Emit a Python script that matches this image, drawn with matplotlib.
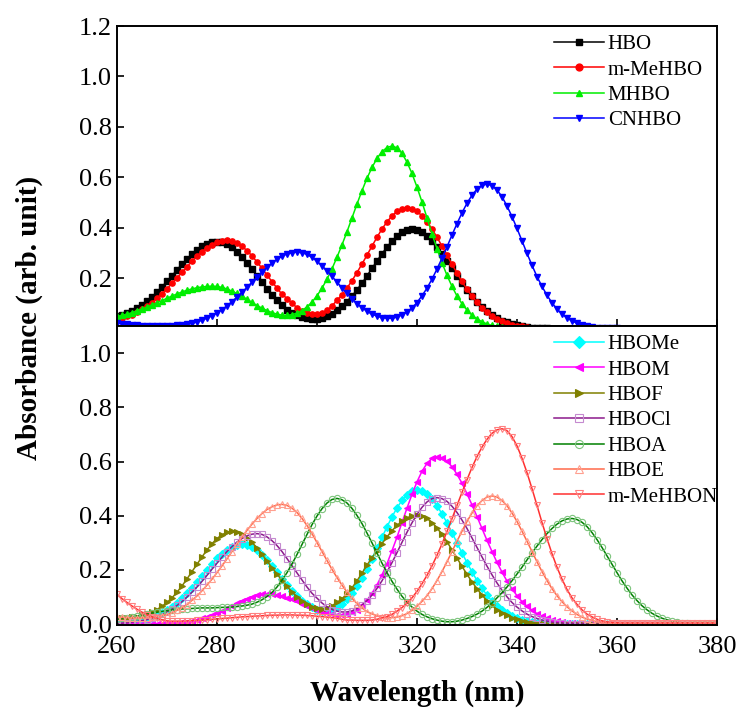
import numpy as np
import matplotlib.pyplot as plt
from matplotlib.ticker import FormatStrFormatter

plt.rcParams['font.family'] = ['Liberation Serif', 'DejaVu Serif']

# Wavelength grid (nm)
wavelength = np.arange(260, 381)

# --- Top panel series ---
hbo = [
    0.049, 0.054, 0.061, 0.069, 0.080, 0.093, 0.108, 0.125, 0.145, 0.166,
    0.187, 0.209, 0.233, 0.255, 0.276, 0.296, 0.313, 0.326, 0.337, 0.343,
    0.345, 0.342, 0.334, 0.322, 0.304, 0.284, 0.260, 0.235, 0.209, 0.183,
    0.158, 0.134, 0.112, 0.092, 0.075, 0.063, 0.053, 0.045, 0.041, 0.038,
    0.039, 0.042, 0.049, 0.059, 0.072, 0.088, 0.107, 0.129, 0.154, 0.180,
    0.209, 0.239, 0.268, 0.297, 0.323, 0.347, 0.366, 0.381, 0.390, 0.393,
    0.390, 0.381, 0.366, 0.347, 0.323, 0.297, 0.268, 0.239, 0.209, 0.180,
    0.153, 0.128, 0.105, 0.085, 0.068, 0.053, 0.041, 0.031, 0.024, 0.017,
    0.013, 0.009, 0.006, 0.004, 0.003, 0.002, 0.001, 0, 0, 0,
    0, 0, 0, 0, 0, 0, 0, 0, 0, 0,
    0, 0, 0, 0, 0, 0, 0, 0, 0, 0,
    0, 0, 0, 0, 0, 0, 0, 0, 0, 0,
    0,
]
m_mehbo = [
    0.039, 0.042, 0.048, 0.055, 0.064, 0.076, 0.089, 0.103, 0.120, 0.138,
    0.158, 0.179, 0.201, 0.223, 0.245, 0.267, 0.287, 0.305, 0.320, 0.333,
    0.342, 0.348, 0.350, 0.347, 0.339, 0.326, 0.309, 0.288, 0.264, 0.239,
    0.212, 0.186, 0.160, 0.136, 0.119, 0.101, 0.082, 0.068, 0.060, 0.057,
    0.057, 0.062, 0.072, 0.090, 0.112, 0.134, 0.160, 0.190, 0.222, 0.256,
    0.291, 0.327, 0.362, 0.395, 0.423, 0.447, 0.465, 0.476, 0.480, 0.476,
    0.465, 0.447, 0.423, 0.395, 0.362, 0.327, 0.291, 0.255, 0.220, 0.187,
    0.156, 0.128, 0.104, 0.083, 0.065, 0.050, 0.038, 0.029, 0.021, 0.015,
    0.011, 0.008, 0.005, 0.004, 0.002, 0.002, 0.001, 0.001, 0, 0,
    0, 0, 0, 0, 0, 0, 0, 0, 0, 0,
    0, 0, 0, 0, 0, 0, 0, 0, 0, 0,
    0, 0, 0, 0, 0, 0, 0, 0, 0, 0,
    0,
]
mhbo = [
    0.048, 0.052, 0.057, 0.063, 0.070, 0.078, 0.085, 0.094, 0.102, 0.111,
    0.120, 0.129, 0.137, 0.145, 0.152, 0.157, 0.162, 0.165, 0.167, 0.168,
    0.167, 0.163, 0.157, 0.148, 0.139, 0.128, 0.116, 0.104, 0.091, 0.081,
    0.071, 0.063, 0.057, 0.053, 0.052, 0.055, 0.061, 0.071, 0.086, 0.105,
    0.130, 0.160, 0.196, 0.237, 0.283, 0.332, 0.384, 0.439, 0.494, 0.547,
    0.596, 0.639, 0.675, 0.702, 0.718, 0.724, 0.717, 0.695, 0.660, 0.615,
    0.561, 0.502, 0.439, 0.376, 0.317, 0.261, 0.211, 0.167, 0.129, 0.098,
    0.073, 0.053, 0.038, 0.027, 0.018, 0.012, 0.008, 0.005, 0.003, 0.002,
    0.001, 0, 0, 0, 0, 0, 0, 0, 0, 0,
    0, 0, 0, 0, 0, 0, 0, 0, 0, 0,
    0, 0, 0, 0, 0, 0, 0, 0, 0, 0,
    0, 0, 0, 0, 0, 0, 0, 0, 0, 0,
    0,
]
cnhbo = [
    0.022, 0.019, 0.016, 0.014, 0.012, 0.011, 0.010, 0.010, 0.009, 0.009,
    0.010, 0.010, 0.012, 0.014, 0.016, 0.020, 0.026, 0.033, 0.041, 0.051,
    0.062, 0.075, 0.090, 0.107, 0.125, 0.144, 0.163, 0.184, 0.204, 0.224,
    0.243, 0.260, 0.275, 0.287, 0.296, 0.301, 0.303, 0.301, 0.294, 0.282,
    0.267, 0.249, 0.229, 0.207, 0.184, 0.161, 0.139, 0.119, 0.099, 0.083,
    0.068, 0.057, 0.049, 0.043, 0.041, 0.041, 0.045, 0.054, 0.066, 0.082,
    0.103, 0.130, 0.160, 0.196, 0.236, 0.279, 0.324, 0.371, 0.416, 0.459,
    0.497, 0.529, 0.553, 0.568, 0.573, 0.567, 0.550, 0.523, 0.486, 0.444,
    0.397, 0.348, 0.298, 0.251, 0.206, 0.167, 0.132, 0.102, 0.077, 0.058,
    0.042, 0.030, 0.021, 0.014, 0.010, 0.006, 0.004, 0.003, 0.002, 0.001,
    0.001, 0, 0, 0, 0, 0, 0, 0, 0, 0,
    0, 0, 0, 0, 0, 0, 0, 0, 0, 0,
    0,
]

# --- Bottom panel series ---
hbome = [
    0.002, 0.003, 0.005, 0.007, 0.009, 0.013, 0.018, 0.024, 0.031, 0.040,
    0.051, 0.064, 0.079, 0.096, 0.115, 0.135, 0.157, 0.179, 0.201, 0.223,
    0.243, 0.260, 0.275, 0.286, 0.293, 0.295, 0.292, 0.285, 0.272, 0.256,
    0.236, 0.214, 0.191, 0.167, 0.144, 0.121, 0.104, 0.086, 0.073, 0.062,
    0.054, 0.050, 0.051, 0.055, 0.063, 0.076, 0.093, 0.114, 0.141, 0.171,
    0.204, 0.242, 0.280, 0.320, 0.359, 0.396, 0.429, 0.457, 0.478, 0.491,
    0.495, 0.491, 0.480, 0.461, 0.437, 0.407, 0.374, 0.338, 0.300, 0.263,
    0.227, 0.193, 0.161, 0.132, 0.107, 0.085, 0.067, 0.052, 0.040, 0.030,
    0.022, 0.016, 0.011, 0.008, 0.005, 0.004, 0.003, 0.002, 0.001, 0.001,
    0, 0, 0, 0, 0, 0, 0, 0, 0, 0,
    0, 0, 0, 0, 0, 0, 0, 0, 0, 0,
    0, 0, 0, 0, 0, 0, 0, 0, 0, 0,
    0,
]
hbom = [
    0.002, 0.002, 0.002, 0.002, 0.002, 0.002, 0.002, 0.002, 0.002, 0.002,
    0.003, 0.004, 0.005, 0.007, 0.009, 0.012, 0.016, 0.021, 0.027, 0.033,
    0.040, 0.049, 0.058, 0.067, 0.077, 0.086, 0.094, 0.101, 0.107, 0.110,
    0.111, 0.110, 0.108, 0.103, 0.098, 0.091, 0.084, 0.076, 0.067, 0.059,
    0.053, 0.046, 0.040, 0.037, 0.035, 0.034, 0.038, 0.044, 0.054, 0.069,
    0.088, 0.114, 0.145, 0.182, 0.223, 0.271, 0.321, 0.375, 0.428, 0.479,
    0.525, 0.564, 0.593, 0.612, 0.618, 0.614, 0.601, 0.581, 0.553, 0.520,
    0.481, 0.440, 0.397, 0.353, 0.309, 0.268, 0.228, 0.192, 0.159, 0.130,
    0.105, 0.083, 0.066, 0.051, 0.039, 0.029, 0.022, 0.016, 0.012, 0.008,
    0.006, 0.004, 0.003, 0.002, 0.001, 0.001, 0, 0, 0, 0,
    0, 0, 0, 0, 0, 0, 0, 0, 0, 0,
    0, 0, 0, 0, 0, 0, 0, 0, 0, 0,
    0,
]
hbof = [
    0.021, 0.022, 0.023, 0.025, 0.028, 0.032, 0.038, 0.045, 0.054, 0.066,
    0.080, 0.097, 0.118, 0.141, 0.167, 0.194, 0.221, 0.248, 0.274, 0.297,
    0.316, 0.330, 0.339, 0.342, 0.339, 0.331, 0.319, 0.302, 0.281, 0.258,
    0.233, 0.208, 0.185, 0.161, 0.139, 0.119, 0.100, 0.085, 0.073, 0.064,
    0.058, 0.056, 0.060, 0.068, 0.080, 0.094, 0.112, 0.134, 0.160, 0.188,
    0.218, 0.245, 0.271, 0.297, 0.322, 0.345, 0.364, 0.380, 0.392, 0.400,
    0.402, 0.399, 0.390, 0.375, 0.355, 0.331, 0.304, 0.274, 0.244, 0.213,
    0.184, 0.156, 0.131, 0.107, 0.087, 0.069, 0.054, 0.042, 0.032, 0.024,
    0.018, 0.013, 0.009, 0.006, 0.004, 0.003, 0.002, 0.001, 0.001, 0,
    0, 0, 0, 0, 0, 0, 0, 0, 0, 0,
    0, 0, 0, 0, 0, 0, 0, 0, 0, 0,
    0, 0, 0, 0, 0, 0, 0, 0, 0, 0,
    0,
]
hbocl = [
    0.003, 0.004, 0.005, 0.007, 0.010, 0.013, 0.017, 0.022, 0.028, 0.036,
    0.045, 0.056, 0.069, 0.083, 0.100, 0.118, 0.137, 0.158, 0.180, 0.203,
    0.225, 0.247, 0.268, 0.286, 0.303, 0.316, 0.326, 0.332, 0.334, 0.331,
    0.322, 0.308, 0.290, 0.268, 0.242, 0.216, 0.189, 0.163, 0.137, 0.114,
    0.096, 0.078, 0.064, 0.054, 0.048, 0.045, 0.045, 0.049, 0.058, 0.070,
    0.087, 0.107, 0.132, 0.160, 0.193, 0.227, 0.264, 0.302, 0.339, 0.374,
    0.405, 0.431, 0.451, 0.463, 0.467, 0.463, 0.453, 0.435, 0.412, 0.384,
    0.353, 0.318, 0.283, 0.248, 0.214, 0.182, 0.152, 0.125, 0.101, 0.080,
    0.063, 0.049, 0.037, 0.028, 0.021, 0.015, 0.011, 0.007, 0.005, 0.004,
    0.002, 0.002, 0.001, 0.001, 0, 0, 0, 0, 0, 0,
    0, 0, 0, 0, 0, 0, 0, 0, 0, 0,
    0, 0, 0, 0, 0, 0, 0, 0, 0, 0,
    0,
]
hboa = [
    0.018, 0.021, 0.024, 0.027, 0.030, 0.034, 0.037, 0.041, 0.044, 0.047,
    0.050, 0.052, 0.054, 0.056, 0.057, 0.058, 0.059, 0.060, 0.060, 0.060,
    0.061, 0.062, 0.062, 0.063, 0.065, 0.067, 0.070, 0.074, 0.081, 0.090,
    0.102, 0.117, 0.137, 0.162, 0.190, 0.222, 0.257, 0.294, 0.331, 0.367,
    0.399, 0.426, 0.447, 0.460, 0.464, 0.459, 0.447, 0.427, 0.401, 0.371,
    0.336, 0.300, 0.262, 0.225, 0.190, 0.158, 0.129, 0.103, 0.081, 0.063,
    0.048, 0.036, 0.027, 0.020, 0.015, 0.011, 0.009, 0.009, 0.011, 0.015,
    0.021, 0.028, 0.037, 0.048, 0.062, 0.078, 0.097, 0.116, 0.137, 0.160,
    0.185, 0.210, 0.237, 0.263, 0.288, 0.312, 0.334, 0.353, 0.369, 0.381,
    0.388, 0.390, 0.386, 0.376, 0.360, 0.338, 0.312, 0.283, 0.252, 0.221,
    0.190, 0.160, 0.133, 0.108, 0.087, 0.068, 0.053, 0.040, 0.030, 0.022,
    0.016, 0.011, 0.008, 0.005, 0.004, 0.002, 0.002, 0.001, 0.001, 0.001,
    0.001,
]
hboe = [
    0.026, 0.025, 0.024, 0.023, 0.023, 0.023, 0.023, 0.025, 0.027, 0.031,
    0.035, 0.042, 0.051, 0.061, 0.072, 0.088, 0.104, 0.123, 0.144, 0.166,
    0.190, 0.215, 0.241, 0.268, 0.295, 0.321, 0.346, 0.369, 0.390, 0.408,
    0.423, 0.433, 0.440, 0.442, 0.438, 0.428, 0.412, 0.390, 0.364, 0.334,
    0.301, 0.268, 0.235, 0.202, 0.172, 0.144, 0.118, 0.095, 0.076, 0.060,
    0.046, 0.038, 0.031, 0.025, 0.023, 0.024, 0.026, 0.031, 0.039, 0.051,
    0.066, 0.084, 0.105, 0.131, 0.161, 0.194, 0.230, 0.268, 0.306, 0.343,
    0.379, 0.410, 0.437, 0.456, 0.469, 0.473, 0.469, 0.456, 0.437, 0.410,
    0.379, 0.343, 0.306, 0.268, 0.230, 0.194, 0.161, 0.131, 0.105, 0.083,
    0.064, 0.049, 0.036, 0.026, 0.019, 0.014, 0.009, 0.006, 0.004, 0.003,
    0.003, 0.003, 0.003, 0.003, 0.003, 0.003, 0.003, 0.003, 0.003, 0.003,
    0.003, 0.003, 0.003, 0.003, 0.003, 0.003, 0.003, 0.003, 0.003, 0.003,
    0.003,
]
m_mehbon = [
    0.110, 0.094, 0.080, 0.067, 0.055, 0.044, 0.035, 0.027, 0.021, 0.016,
    0.012, 0.011, 0.011, 0.011, 0.012, 0.013, 0.014, 0.015, 0.016, 0.018,
    0.019, 0.021, 0.022, 0.024, 0.025, 0.027, 0.028, 0.029, 0.030, 0.031,
    0.032, 0.033, 0.033, 0.034, 0.034, 0.034, 0.033, 0.033, 0.032, 0.031,
    0.029, 0.028, 0.026, 0.024, 0.022, 0.018, 0.015, 0.015, 0.014, 0.014,
    0.014, 0.015, 0.018, 0.023, 0.028, 0.036, 0.048, 0.061, 0.078, 0.097,
    0.121, 0.149, 0.180, 0.215, 0.254, 0.296, 0.342, 0.389, 0.438, 0.486,
    0.533, 0.578, 0.618, 0.653, 0.682, 0.704, 0.717, 0.721, 0.714, 0.692,
    0.658, 0.612, 0.559, 0.500, 0.438, 0.375, 0.316, 0.260, 0.210, 0.166,
    0.128, 0.097, 0.073, 0.053, 0.037, 0.027, 0.018, 0.012, 0.008, 0.006,
    0.005, 0.004, 0.004, 0.004, 0.004, 0.004, 0.004, 0.004, 0.004, 0.004,
    0.004, 0.004, 0.004, 0.004, 0.004, 0.004, 0.004, 0.004, 0.004, 0.004,
    0.004,
]

top_series = [
    (hbo, 'HBO', 'black', 's'),
    (m_mehbo, 'm-MeHBO', 'red', 'o'),
    (mhbo, 'MHBO', '#00ee00', '^'),
    (cnhbo, 'CNHBO', 'blue', 'v'),
]
# (data, label, line colour, marker, marker edge colour, filled?)
bottom_series = [
    (hbome, 'HBOMe', '#00ffff', 'D', '#00ffff', True),
    (hbom, 'HBOM', '#ff00ff', '<', '#ff00ff', True),
    (hbof, 'HBOF', '#808000', '>', '#808000', True),
    (hbocl, 'HBOCl', '#8b1a8b', 's', '#c58ad0', False),
    (hboa, 'HBOA', '#008000', 'o', '#7cc47c', False),
    (hboe, 'HBOE', '#ff6a4a', '^', '#ffa090', False),
    (m_mehbon, 'm-MeHBON', '#ff3030', 'v', '#ff8080', False),
]

fig = plt.figure(figsize=(7.41, 7.11), dpi=100)
ax1 = fig.add_axes([0.1579, 0.5415, 0.8097, 0.4219])
ax2 = fig.add_axes([0.1579, 0.1210, 0.8097, 0.4205])

# --- Top panel ---
for y, lab, col, mk in top_series:
    ax1.plot(wavelength, y, color=col, marker=mk, markersize=3.8,
             linewidth=1.1, label=lab)

# --- Bottom panel ---
for y, lab, col, mk, edge, filled in bottom_series:
    ax2.plot(wavelength, y, color=col, marker=mk, markersize=4.5,
             markeredgecolor=edge, markerfacecolor=col if filled else 'none',
             markeredgewidth=0.8, linewidth=1.1, label=lab)

for ax in (ax1, ax2):
    ax.set_xlim(260, 380)
    ax.set_xticks(np.arange(260, 381, 20))
    ax.tick_params(direction='in', length=5, width=1.2, labelsize=19)
    ax.yaxis.set_major_formatter(FormatStrFormatter('%.1f'))
    for sp in ax.spines.values():
        sp.set_linewidth(1.4)

ax1.set_ylim(0.01, 1.2)
ax1.set_yticks([0.2, 0.4, 0.6, 0.8, 1.0, 1.2])
ax1.tick_params(labelbottom=False)

ax2.set_ylim(-0.003, 1.1)
ax2.set_yticks([0.0, 0.2, 0.4, 0.6, 0.8, 1.0])
ax2.tick_params(axis='x', pad=8)

legend_style = dict(loc='upper left', bbox_to_anchor=(0.707, 1.013),
                    frameon=False, fontsize=15, handlelength=2.4,
                    handletextpad=0.2, labelspacing=0.28, borderaxespad=0.2,
                    numpoints=1, markerscale=1.3)
ax1.legend(**legend_style)
ax2.legend(**legend_style)

fig.text(0.5628, 0.025, 'Wavelength (nm)', ha='center', va='center',
         fontsize=21, fontweight='bold')
fig.text(0.04, 0.553, 'Absorbance (arb. unit)', ha='center', va='center',
         rotation=90, fontsize=21, fontweight='bold')

plt.savefig('out.png', dpi=100)
